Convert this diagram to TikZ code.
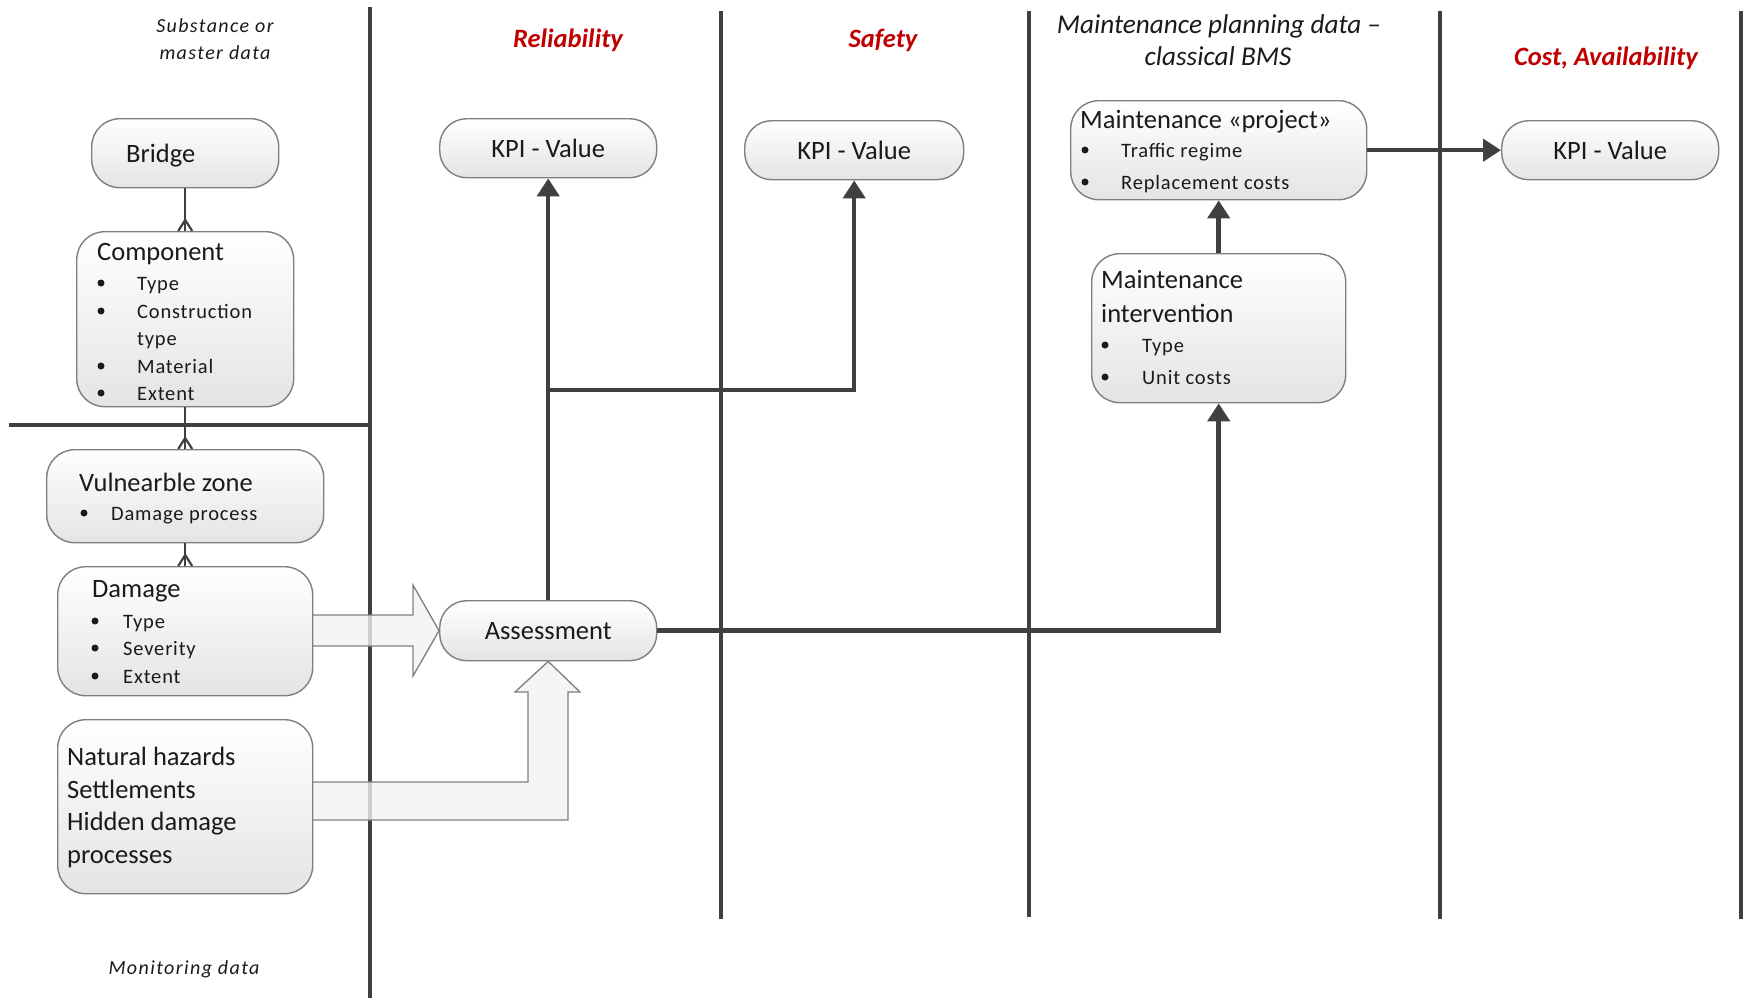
\documentclass[tikz,border=0pt]{standalone}
\usepackage{fontspec}
\setmainfont{Carlito}
\newfontfamily\spacedfont[LetterSpace=7]{Carlito}
\newfontfamily\itemfont[LetterSpace=4]{Carlito}
\usetikzlibrary{arrows.meta,calc}
\pgfdeclarelayer{background}
\pgfsetlayers{background,main}

\definecolor{ink}{HTML}{1A1A1A}
\definecolor{rulegray}{HTML}{404040}
\definecolor{edgegray}{HTML}{7F7F7F}
\definecolor{shadebot}{HTML}{E4E4E4}
\definecolor{blockfill}{HTML}{F2F2F2}
\definecolor{titlered}{HTML}{C00000}

% bullet item: name, bullet x, text x, baseline y, text
\newcommand\bulletitem[5]{%
  \node[dotmark] (#1b) at (#2,#4-7) {};
  \node[itm] (#1) at (#3,#4) {#5};}

\begin{document}
\begin{tikzpicture}[x=1pt,y=-1pt,
  box/.style={draw=edgegray, line width=1.4pt, rounded corners=28pt,
    top color=white, bottom color=shadebot, anchor=north west, inner sep=0pt},
  pill/.style={box, rounded corners=27pt, text=ink, font=\fontsize{26.5}{30}\selectfont},
  lbl/.style={anchor=base west, inner sep=0pt, text=ink, font=\fontsize{26.5}{30}\selectfont},
  itm/.style={anchor=base west, inner sep=0pt, text=ink, font=\itemfont\fontsize{20.5}{24}\selectfont},
  dotmark/.style={circle, fill=ink, minimum size=7pt, inner sep=0pt},
  lane/.style={draw=rulegray, line width=4.5pt},
  link/.style={draw=rulegray, line width=2.2pt},
  flow/.style={draw=rulegray, line width=4.5pt, -{Triangle[length=18pt,width=22pt]}},
  block/.style={draw=edgegray, line width=1.3pt, fill=blockfill, fill opacity=0.8},
  head/.style={anchor=base, inner sep=0pt, text=titlered, font=\fontsize{26.5}{30}\selectfont\bfseries\itshape},
  note/.style={anchor=base, inner sep=0pt, text=ink, font=\spacedfont\fontsize{20}{24}\selectfont\itshape},
  plan/.style={anchor=base, inner sep=0pt, text=ink, font=\fontsize{27.2}{30}\selectfont\itshape},
]
\useasboundingbox (0,0) rectangle (1744,997);

% ---------- boxes ----------
\node[box, minimum width=187pt, minimum height=69pt]  (bridge) at (91,118) {};
\node[box, minimum width=217pt, minimum height=175pt] (comp)   at (76,231) {};
\node[box, minimum width=277pt, minimum height=93pt]  (vz)     at (46,449) {};
\node[box, minimum width=255pt, minimum height=129pt] (dmg)    at (57,566) {};
\node[box, minimum width=255pt, minimum height=174pt] (nh)     at (57,719) {};
\node[pill, minimum width=217pt, minimum height=60pt] (ass)    at (439,600) {Assessment};
\node[pill, minimum width=217pt, minimum height=59pt] (kpi1)   at (439,118) {KPI - Value};
\node[pill, minimum width=219pt, minimum height=59pt] (kpi2)   at (744,120) {KPI - Value};
\node[pill, minimum width=217pt, minimum height=59pt] (kpi3)   at (1501,120) {KPI - Value};
\node[box, minimum width=296pt, minimum height=99pt]  (mp)     at (1070,100) {};
\node[box, minimum width=254pt, minimum height=149pt] (mi)     at (1091,253) {};

% ---------- lanes and block arrows (behind the boxes) ----------
\begin{pgfonlayer}{background}
  \draw[lane] (370,7) -- (370,1000);
  \draw[lane] (721,11) -- (721,919);
  \draw[lane] (1029,11) -- (1029,917);
  \draw[lane] (1440,11) -- (1440,919);
  \draw[lane] (1741,11) -- (1741,919);
  \draw[lane] (9,425) -- (370,425);
  % damage -> assessment
  \draw[block] (312,615) -- (413,615) -- (413,585) -- (ass.west)
    -- (413,676) -- (413,646) -- (312,646) -- cycle;
  % natural hazards -> assessment
  \draw[block] (312,782) -- (528,782) -- (528,692) -- (515,692) -- (ass.south)
    -- (580,692) -- (568,692) -- (568,820) -- (312,820) -- cycle;
\end{pgfonlayer}

% ---------- column headings ----------
\node[note] (subst1) at (215,32) {Substance or};
\node[note] (subst2) at (215,59) {master data};
\node[note] (monit)  at (184,974) {Monitoring data};
\node[head] (hrel)   at (568,47) {Reliability};
\node[head] (hsaf)   at (883,47) {Safety};
\node[plan] (hmp1)   at (1219,33) {Maintenance planning data –};
\node[plan] (hmp2)   at (1218,65) {classical BMS};
\node[head] (hcost)  at (1606,65) {Cost, Availability};

% ---------- box texts ----------
\node[lbl] (bridgeT) at (126,162) {Bridge};

\node[lbl] (compT) at (97,260) {Component};
\bulletitem{compA}{101}{137}{290}{Type}
\bulletitem{compB}{101}{137}{318}{Construction}
\node[itm] (compB2) at (137,345) {type};
\bulletitem{compC}{101}{137}{373}{Material}
\bulletitem{compD}{101}{137}{400}{Extent}

\node[lbl] (vzT) at (79,491) {Vulnearble zone};
\bulletitem{vzA}{84}{111}{520}{Damage process}

\node[lbl] (dmgT) at (92,597) {Damage};
\bulletitem{dmgA}{95}{123}{628}{Type}
\bulletitem{dmgB}{95}{123}{655}{Severity}
\bulletitem{dmgC}{95}{123}{683}{Extent}

\node[lbl] (nhA) at (67,765) {Natural hazards};
\node[lbl] (nhB) at (67,798) {Settlements};
\node[lbl] (nhC) at (67,830) {Hidden damage};
\node[lbl] (nhD) at (67,863) {processes};

\node[lbl] (mpT) at (1080,128) {Maintenance «project»};
\bulletitem{mpA}{1085}{1121}{157}{Traffic regime}
\bulletitem{mpB}{1085}{1121}{189}{Replacement costs}

\node[lbl] (miT1) at (1101,288) {Maintenance};
\node[lbl] (miT2) at (1101,322) {intervention};
\bulletitem{miA}{1105}{1142}{352}{Type}
\bulletitem{miB}{1105}{1142}{384}{Unit costs}

% ---------- one-to-many links ----------
\draw[link] (bridge.south) -- (comp.north);
\draw[link] ($(comp.north)+(-7,0)$) -- ($(comp.north)+(0,-11)$) -- ($(comp.north)+(7,0)$);
\draw[link] (comp.south) -- (vz.north);
\draw[link] ($(vz.north)+(-7,0)$) -- ($(vz.north)+(0,-11)$) -- ($(vz.north)+(7,0)$);
\draw[link] (vz.south) -- (dmg.north);
\draw[link] ($(dmg.north)+(-7,0)$) -- ($(dmg.north)+(0,-11)$) -- ($(dmg.north)+(7,0)$);

% ---------- flows ----------
\draw[flow] (ass.north) -- (kpi1.south);
\path (ass.north) ++(0,-210) coordinate (branch);
\draw[flow] (branch) -| (kpi2.south);
\draw[flow] (ass.east) -| (mi.south);
\draw[flow] (mi.north) -- (mp.south);
\draw[flow] (mp.east) -- (kpi3.west);
\end{tikzpicture}
\end{document}
